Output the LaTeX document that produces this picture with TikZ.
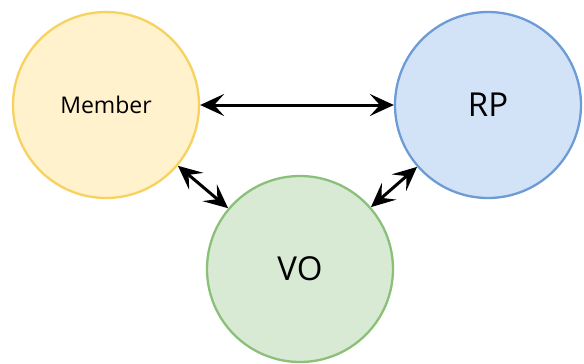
\documentclass[tikz,border=0pt]{standalone}
\usepackage{fontspec}
\setmainfont{Open Sans}
\usetikzlibrary{arrows.meta}
\definecolor{yfill}{HTML}{FFF2CC}
\definecolor{ydraw}{HTML}{F7D25E}
\definecolor{bfill}{HTML}{D3E3F7}
\definecolor{bdraw}{HTML}{6C9BD6}
\definecolor{gfill}{HTML}{D8EAD3}
\definecolor{gdraw}{HTML}{8BC07A}
\tikzset{
  ent/.style={circle, line width=2.3pt, inner sep=0pt, minimum size=186pt},
  link/.style={line width=3pt, {Stealth[length=24pt,width=22pt,inset=10pt]}-{Stealth[length=24pt,width=22pt,inset=10pt]}}
}
\begin{document}
\begin{tikzpicture}[x=1pt,y=-1pt]
\useasboundingbox (0,0) rectangle (584,364);
\node[ent, fill=yfill, draw=ydraw, font=\fontsize{23}{27}\selectfont] (member) at (106,105) {Member};
\node[ent, fill=bfill, draw=bdraw, font=\fontsize{33}{38}\selectfont] (rp) at (488,105) {RP};
\node[ent, fill=gfill, draw=gdraw, font=\fontsize{33}{38}\selectfont] (vo) at (300,269) {VO};
\draw[link] (member.east) -- (rp.west);
\draw[link] (member) -- (vo);
\draw[link] (rp) -- (vo);
\end{tikzpicture}
\end{document}
